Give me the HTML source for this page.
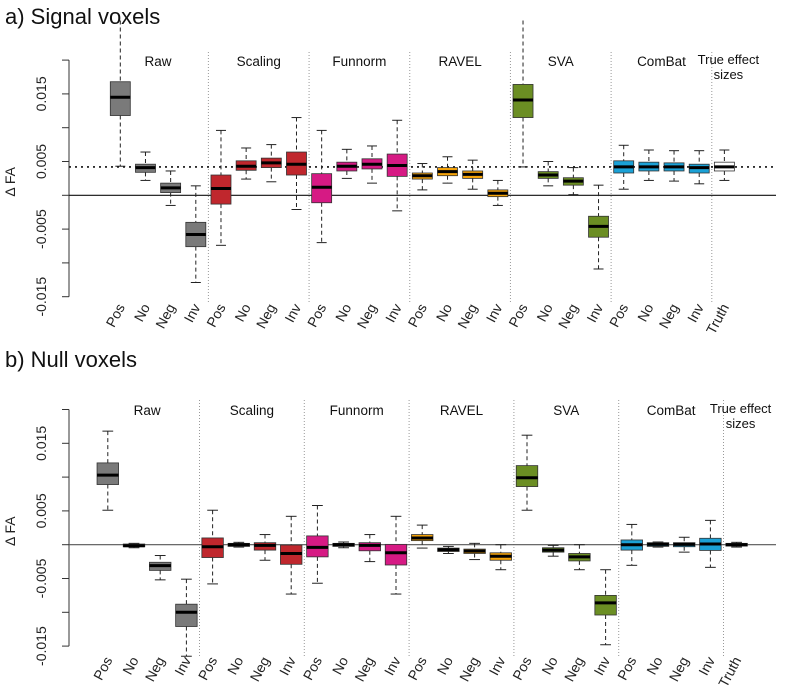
<!DOCTYPE html>
<html><head><meta charset="utf-8"><style>
html,body{margin:0;padding:0;background:#fff;}
svg{display:block;font-family:"Liberation Sans",sans-serif;}
</style></head><body>
<svg id="chart" width="800" height="689" viewBox="0 0 800 689" xmlns="http://www.w3.org/2000/svg">
<defs>
<clipPath id="clipA"><rect x="60" y="20" width="740" height="290"/></clipPath>
<clipPath id="clipB"><rect x="60" y="395" width="740" height="270"/></clipPath>
</defs>
</svg>
<script>
// categories
const groups = ["Raw","Scaling","Funnorm","RAVEL","SVA","ComBat"];
const conditions = ["Pos","No","Neg","Inv"];
const groupColors = ["#7a7a7a","#c0272d","#d61a84","#f4a30a","#6b8e23","#1ba1d6","#ffffff"];
const yTicks = [0.02,0.015,0.01,0.005,0,-0.005,-0.01,-0.015];
const yTickLabels = ["","0.015","","0.005","","-0.005","","-0.015"];
const trueEffect = 0.0042;
// panel a: signal voxels (x1000): [whiskLow, q1, median, q3, whiskHigh]
const signalBoxes = [
 [4.3,11.8,14.5,16.8,30],[2.2,3.4,4.1,4.6,6.4],[-1.5,0.4,1.1,1.8,3.6],[-12.9,-7.6,-5.8,-4.0,1.4],
 [-7.4,-1.3,1.0,3.0,9.6],[2.4,3.7,4.3,5.1,7.0],[2.0,4.1,4.8,5.5,7.5],[-2.1,3.0,4.6,6.4,11.5],
 [-7.0,-1.1,1.2,3.2,9.6],[2.5,3.6,4.3,4.9,6.8],[1.8,3.9,4.6,5.4,7.3],[-2.3,2.8,4.4,6.1,11.1],
 [0.8,2.4,2.9,3.3,4.7],[1.8,2.9,3.5,4.1,5.7],[0.9,2.5,3.1,3.6,5.2],[-1.5,-0.2,0.3,0.8,2.2],
 [4.2,11.5,14.1,16.4,30],[1.4,2.5,3.0,3.5,5.0],[0.1,1.5,2.1,2.6,4.1],[-10.9,-6.2,-4.6,-3.1,1.5],
 [0.9,3.3,4.2,5.1,7.4],[2.2,3.6,4.2,4.9,6.7],[2.1,3.6,4.2,4.8,6.6],[1.7,3.3,4.1,4.6,6.6],
 [2.2,3.6,4.2,4.9,6.7]
];
// panel b: null voxels (x1000)
const nullBoxes = [
 [5.1,8.9,10.3,12.1,16.8],[-0.45,-0.3,-0.15,0.1,0.2],[-5.2,-3.8,-3.1,-2.6,-1.6],[-16.5,-12.1,-10.0,-8.8,-5.1],
 [-5.8,-1.9,-0.3,1.0,5.1],[-0.35,-0.25,0,0.2,0.35],[-2.3,-0.8,-0.1,0.3,1.5],[-7.3,-2.9,-1.3,-0.05,4.2],
 [-5.7,-1.8,-0.4,1.3,5.8],[-0.45,-0.25,0,0.2,0.4],[-2.5,-0.9,-0.1,0.3,1.5],[-7.3,-3.0,-1.2,0.05,4.2],
 [-0.5,0.6,1.0,1.5,2.9],[-1.3,-1.0,-0.75,-0.5,-0.25],[-2.2,-1.3,-0.95,-0.65,0.2],[-3.7,-2.3,-1.7,-1.2,0],
 [5.1,8.6,9.9,11.7,16.2],[-1.7,-1.1,-0.8,-0.45,-0.1],[-3.7,-2.4,-1.8,-1.3,0],[-14.8,-10.4,-8.6,-7.5,-3.7],
 [-3.05,-0.8,0,0.7,3.0],[-0.35,-0.25,0.05,0.3,0.4],[-1.1,-0.3,0.05,0.3,1.1],[-3.35,-0.85,0.1,0.95,3.6],
 [-0.35,-0.2,0,0.2,0.35]
];
const NS="http://www.w3.org/2000/svg";
const svg=document.getElementById('chart');
function mk(tag,attrs,parent,text){const e=document.createElementNS(NS,tag);for(const k in attrs)e.setAttribute(k,attrs[k]);if(text!==undefined)e.textContent=text;(parent||svg).appendChild(e);return e;}

function panel(cfg){
  const yS=v=>cfg.zeroY-v/0.005*cfg.unit;
  const xS=i=>cfg.x0+i*cfg.dx;
  const g=mk('g',{});
  
  
  const t=mk('text',{x:5,y:cfg.titleY,'font-size':22,fill:'#111'},g,cfg.title);
  
  
  const ax=mk('line',{x1:69,x2:69,y1:yS(0.02),y2:yS(-0.015),stroke:'#333','stroke-width':1},g);
  
  
  yTicks.forEach((v,i)=>{
    mk('line',{x1:62,x2:69,y1:yS(v),y2:yS(v),stroke:'#333'},g);
    if(yTickLabels[i]){const tl=mk('text',{x:0,y:0,'font-size':14,'text-anchor':'middle',fill:'#222',transform:`translate(46,${yS(v)}) rotate(-90)`},g,yTickLabels[i]);
      
      }
  });
  const yt=mk('text',{x:0,y:0,'font-size':14,'text-anchor':'middle',fill:'#222',transform:`translate(15,${yS(0.002)}) rotate(-90)`},g,'Δ FA');
  
  
  const sepTop=cfg.sepTop, sepBot=cfg.sepBot;
  for(let k=1;k<=6;k++){const sx=(xS(4*k-1)+xS(4*k))/2;
    const s=mk('line',{x1:sx,x2:sx,y1:sepTop,y2:sepBot,stroke:'#999','stroke-dasharray':'1,2'},g);
    
    }
  groups.forEach((gn,k)=>{const cx=(xS(4*k)+xS(4*k+3))/2;
    const l=mk('text',{x:cx,y:cfg.labelY,'font-size':13.5,'text-anchor':'middle',fill:'#111'},g,gn);
    
    });
  const tx=xS(24)+4;
  const te=mk('text',{x:tx,y:cfg.labelY-2,'font-size':13,'text-anchor':'middle',fill:'#111'},g);
  
  
  mk('tspan',{x:tx,dy:0},te,'True effect');
  mk('tspan',{x:tx,dy:15},te,'sizes');
  const zl=mk('line',{x1:69,x2:776,y1:yS(0),y2:yS(0),stroke:cfg.zeroColor,'stroke-width':1.2},g);
  
  
  if(cfg.dotted){const dl=mk('line',{x1:69,x2:776,y1:yS(trueEffect),y2:yS(trueEffect),stroke:'#111','stroke-width':1.6,'stroke-dasharray':'2,4'},g);
    
    }
  const bg=mk('g',{'clip-path':`url(#${cfg.clip})`},g);
  const hw=cfg.bw/2;
  cfg.data.forEach((d,i)=>{
    const cx=xS(i); const col=groupColors[Math.min(Math.floor(i/4),6)];
    const [lo,q1,md,q3,hi]=d.map(v=>yS(v/1000));
    const bx=mk('g',{},bg);
    
    
    mk('line',{x1:cx,x2:cx,y1:hi,y2:q3,stroke:'#222','stroke-dasharray':'4,3'},bx);
    mk('line',{x1:cx,x2:cx,y1:q1,y2:lo,stroke:'#222','stroke-dasharray':'4,3'},bx);
    mk('line',{x1:cx-hw/2,x2:cx+hw/2,y1:hi,y2:hi,stroke:'#222'},bx);
    mk('line',{x1:cx-hw/2,x2:cx+hw/2,y1:lo,y2:lo,stroke:'#222'},bx);
    mk('rect',{x:cx-hw,y:q3,width:cfg.bw,height:Math.max(q1-q3,1),fill:col,stroke:'#333','stroke-width':0.8},bx);
    mk('line',{x1:cx-hw,x2:cx+hw,y1:md,y2:md,stroke:'#000','stroke-width':3},bx);
  });
  for(let i=0;i<25;i++){const lab=i<24?conditions[i%4]:'Truth';
    const xl=mk('text',{x:0,y:0,'font-size':14,'text-anchor':'end',fill:'#222',transform:`translate(${xS(i)+5},${cfg.xlabY}) rotate(-62)`},g,lab);
    
    }
}
panel({name:'panel-a-signal',title:'a)  Signal voxels',titleY:24,data:signalBoxes,zeroY:195.3,unit:33.8,x0:120.3,dx:25.17,bw:20,
  sepTop:52,sepBot:303,labelY:66,xlabY:307,clip:'clipA',dotted:true,zeroColor:'#111'});
panel({name:'panel-b-null',title:'b)  Null voxels',titleY:367,data:nullBoxes,zeroY:544.7,unit:33.8,x0:107.8,dx:26.2,bw:21.5,
  sepTop:400,sepBot:657,labelY:415,xlabY:660,clip:'clipB',dotted:false,zeroColor:'#555'});
</script>
</body></html>
